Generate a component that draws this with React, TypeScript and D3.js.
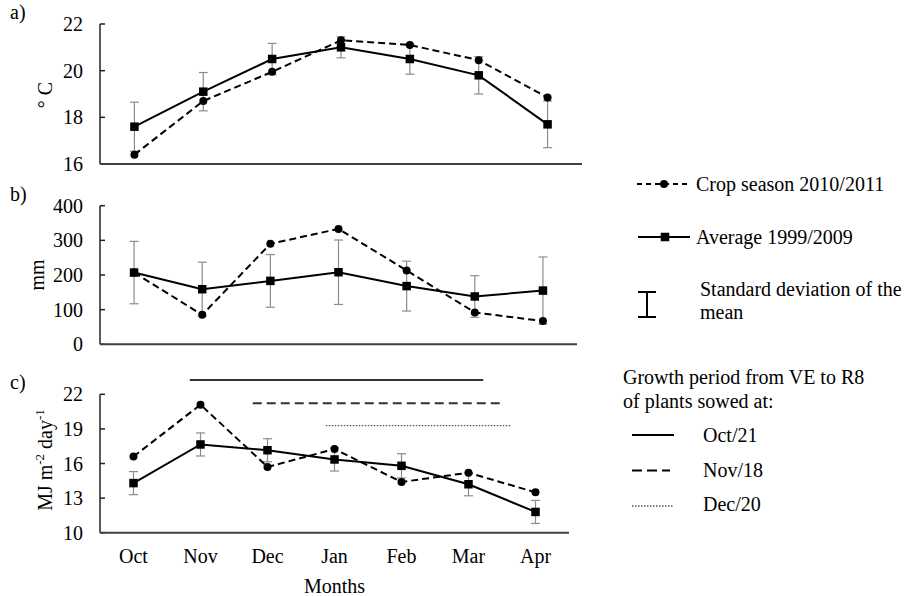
import React from 'react';
import * as d3 from 'd3';

const months = ['Oct', 'Nov', 'Dec', 'Jan', 'Feb', 'Mar', 'Apr'];

// a) air temperature (°C)
const tempCrop = [16.4, 18.7, 19.95, 21.3, 21.1, 20.45, 18.85];
const tempAvg = [17.6, 19.1, 20.5, 21.0, 20.5, 19.8, 17.7];
const tempSd = [1.05, 0.82, 0.67, 0.45, 0.65, 0.8, 1.0];
const tempTicks = [16, 18, 20, 22];

// b) rainfall (mm)
const rainCrop = [207, 85, 290, 333, 213, 92, 67];
const rainAvg = [207, 159, 183, 208, 168, 138, 155];
const rainSd = [90, 78, 76, 93, 72, 60, 97];
const rainTicks = [0, 100, 200, 300, 400];

// c) solar radiation (MJ m-2 day-1)
const radCrop = [16.6, 21.1, 15.7, 17.25, 14.4, 15.2, 13.5];
const radAvg = [14.3, 17.65, 17.15, 16.35, 15.8, 14.2, 11.8];
const radSd = [1.0, 1.0, 1.0, 1.0, 1.05, 1.0, 1.0];
const radTicks = [10, 13, 16, 19, 22];

// growth period VE -> R8, in month-index units (0 = Oct)
const growthLabels = ['Oct/21', 'Nov/18', 'Dec/20'];
const growthStart = [0.84, 1.78, 2.87];
const growthEnd = [5.22, 5.51, 5.63];
const growthDash = ['none', '9,5', '1.5,1.5'];
const growthY = [380, 403.3, 425.7];

const FONT = '"Liberation Serif", "Times New Roman", serif';
const FS = 20;

interface PanelProps {
  label: string;
  top: number;
  bottom: number;
  right: number;
  ticks: number[];
  crop: number[];
  avg: number[];
  sd: number[];
  title: React.ReactNode;
  children?: (x: d3.ScaleLinear<number, number>) => React.ReactNode;
}

const LEFT = 100;

const Panel: React.FC<PanelProps> = ({ label, top, bottom, right, ticks, crop, avg, sd, title, children }) => {
  const x = d3.scaleLinear().domain([-0.5, months.length - 0.5]).range([LEFT, right]);
  const y = d3.scaleLinear().domain([ticks[0], ticks[ticks.length - 1]]).range([bottom, top]);
  const line = d3.line<number>().x((_, i) => x(i)).y(d => y(d));
  const sq = 8.5;

  return (
    <g>
      <text x={10} y={top - 5} fontSize={FS} fontFamily={FONT}>{label}</text>
      {ticks.map(t => (
        <g key={t}>
          <line x1={LEFT} x2={LEFT + 5} y1={y(t)} y2={y(t)} stroke="#222" strokeWidth={1.5} />
          <text x={83} y={y(t) + 7} textAnchor="end" fontSize={FS} fontFamily={FONT}>{t}</text>
        </g>
      ))}
      <line x1={LEFT} x2={LEFT} y1={top} y2={bottom} stroke="#222" strokeWidth={1.5} />
      <line x1={LEFT} x2={right} y1={bottom} y2={bottom} stroke="#404040" strokeWidth={2} />
      {title}

      {avg.map((v, i) => (
        <g key={'e' + i} stroke="#8c8c8c" strokeWidth={1.2}>
          <line x1={x(i)} x2={x(i)} y1={y(v - sd[i])} y2={y(v + sd[i])} />
          <line x1={x(i) - 4.5} x2={x(i) + 4.5} y1={y(v - sd[i])} y2={y(v - sd[i])} />
          <line x1={x(i) - 4.5} x2={x(i) + 4.5} y1={y(v + sd[i])} y2={y(v + sd[i])} />
        </g>
      ))}

      <path d={line(crop) || ''} fill="none" stroke="#000" strokeWidth={2} strokeDasharray="7,4" />
      <path d={line(avg) || ''} fill="none" stroke="#000" strokeWidth={2} />

      {crop.map((v, i) => (
        <circle key={'c' + i} cx={x(i)} cy={y(v)} r={4} fill="#000" />
      ))}
      {avg.map((v, i) => (
        <rect key={'s' + i} x={x(i) - sq / 2} y={y(v) - sq / 2} width={sq} height={sq} fill="#000" />
      ))}
      {children && children(x)}
    </g>
  );
};

export default function App() {
  return (
    <svg width={908} height={596} style={{ position: 'absolute', left: 0, top: 0, background: '#fff' }}>
      <rect width={908} height={596} fill="#fff" />

      <Panel
        label="a)"
        top={24}
        bottom={164}
        right={582}
        ticks={tempTicks}
        crop={tempCrop}
        avg={tempAvg}
        sd={tempSd}
        title={
          <text transform="translate(52,95) rotate(-90)" textAnchor="middle" fontSize={FS} fontFamily={FONT}>
            ° C
          </text>
        }
      />

      <Panel
        label="b)"
        top={205.7}
        bottom={344.3}
        right={577}
        ticks={rainTicks}
        crop={rainCrop}
        avg={rainAvg}
        sd={rainSd}
        title={
          <text transform="translate(44,275) rotate(-90)" textAnchor="middle" fontSize={FS} fontFamily={FONT}>
            mm
          </text>
        }
      >
        {() => null}
      </Panel>

      <Panel
        label="c)"
        top={394.3}
        bottom={532.7}
        right={569}
        ticks={radTicks}
        crop={radCrop}
        avg={radAvg}
        sd={radSd}
        title={
          <text transform="translate(52,460) rotate(-90)" textAnchor="middle" fontSize={FS} fontFamily={FONT}>
            MJ m<tspan fontSize={13} dy={-8}>-2</tspan>
            <tspan dy={8}> day</tspan>
            <tspan fontSize={13} dy={-8}>-1</tspan>
          </text>
        }
      >
        {x => (
          <g>
            {growthLabels.map((g, i) => (
              <line
                key={g}
                x1={x(growthStart[i])}
                x2={x(growthEnd[i])}
                y1={growthY[i]}
                y2={growthY[i]}
                stroke={i === 2 ? '#555' : '#333'}
                strokeWidth={i === 2 ? 1.2 : 2}
                strokeDasharray={growthDash[i]}
              />
            ))}
            {months.map((m, i) => (
              <text key={m} x={x(i)} y={563} textAnchor="middle" fontSize={FS} fontFamily={FONT}>{m}</text>
            ))}
            <text x={x(3)} y={593} textAnchor="middle" fontSize={FS} fontFamily={FONT}>Months</text>
          </g>
        )}
      </Panel>

      {/* legend: series */}
      <g fontFamily={FONT} fontSize={FS}>
        <line x1={637} x2={687} y1={184} y2={184} stroke="#000" strokeWidth={2} strokeDasharray="5,4" />
        <circle cx={664} cy={184} r={4} fill="#000" />
        <text x={696} y={191}>Crop season 2010/2011</text>

        <line x1={638} x2={690} y1={237} y2={237} stroke="#000" strokeWidth={2} />
        <rect x={660.75} y={232.75} width={8.5} height={8.5} fill="#000" />
        <text x={696} y={244}>Average 1999/2009</text>

        <g stroke="#000" strokeWidth={2}>
          <line x1={647} x2={647} y1={292} y2={317} />
          <line x1={638} x2={656} y1={292} y2={292} />
          <line x1={638} x2={656} y1={317} y2={317} />
        </g>
        <text x={700} y={296}>Standard deviation of the</text>
        <text x={700} y={319}>mean</text>

        {/* legend: growth period */}
        <text x={623} y={384}>Growth period from VE to R8</text>
        <text x={623} y={408}>of plants sowed at:</text>
        {growthLabels.map((g, i) => (
          <g key={g}>
            <line
              x1={632}
              x2={i === 1 ? 670 : 674}
              y1={435 + i * 35.5}
              y2={435 + i * 35.5}
              stroke="#000"
              strokeWidth={i === 2 ? 1.2 : 2}
              strokeDasharray={i === 1 ? '10,5' : growthDash[i]}
            />
            <text x={703} y={442 + i * 34.5}>{g}</text>
          </g>
        ))}
      </g>
    </svg>
  );
}
